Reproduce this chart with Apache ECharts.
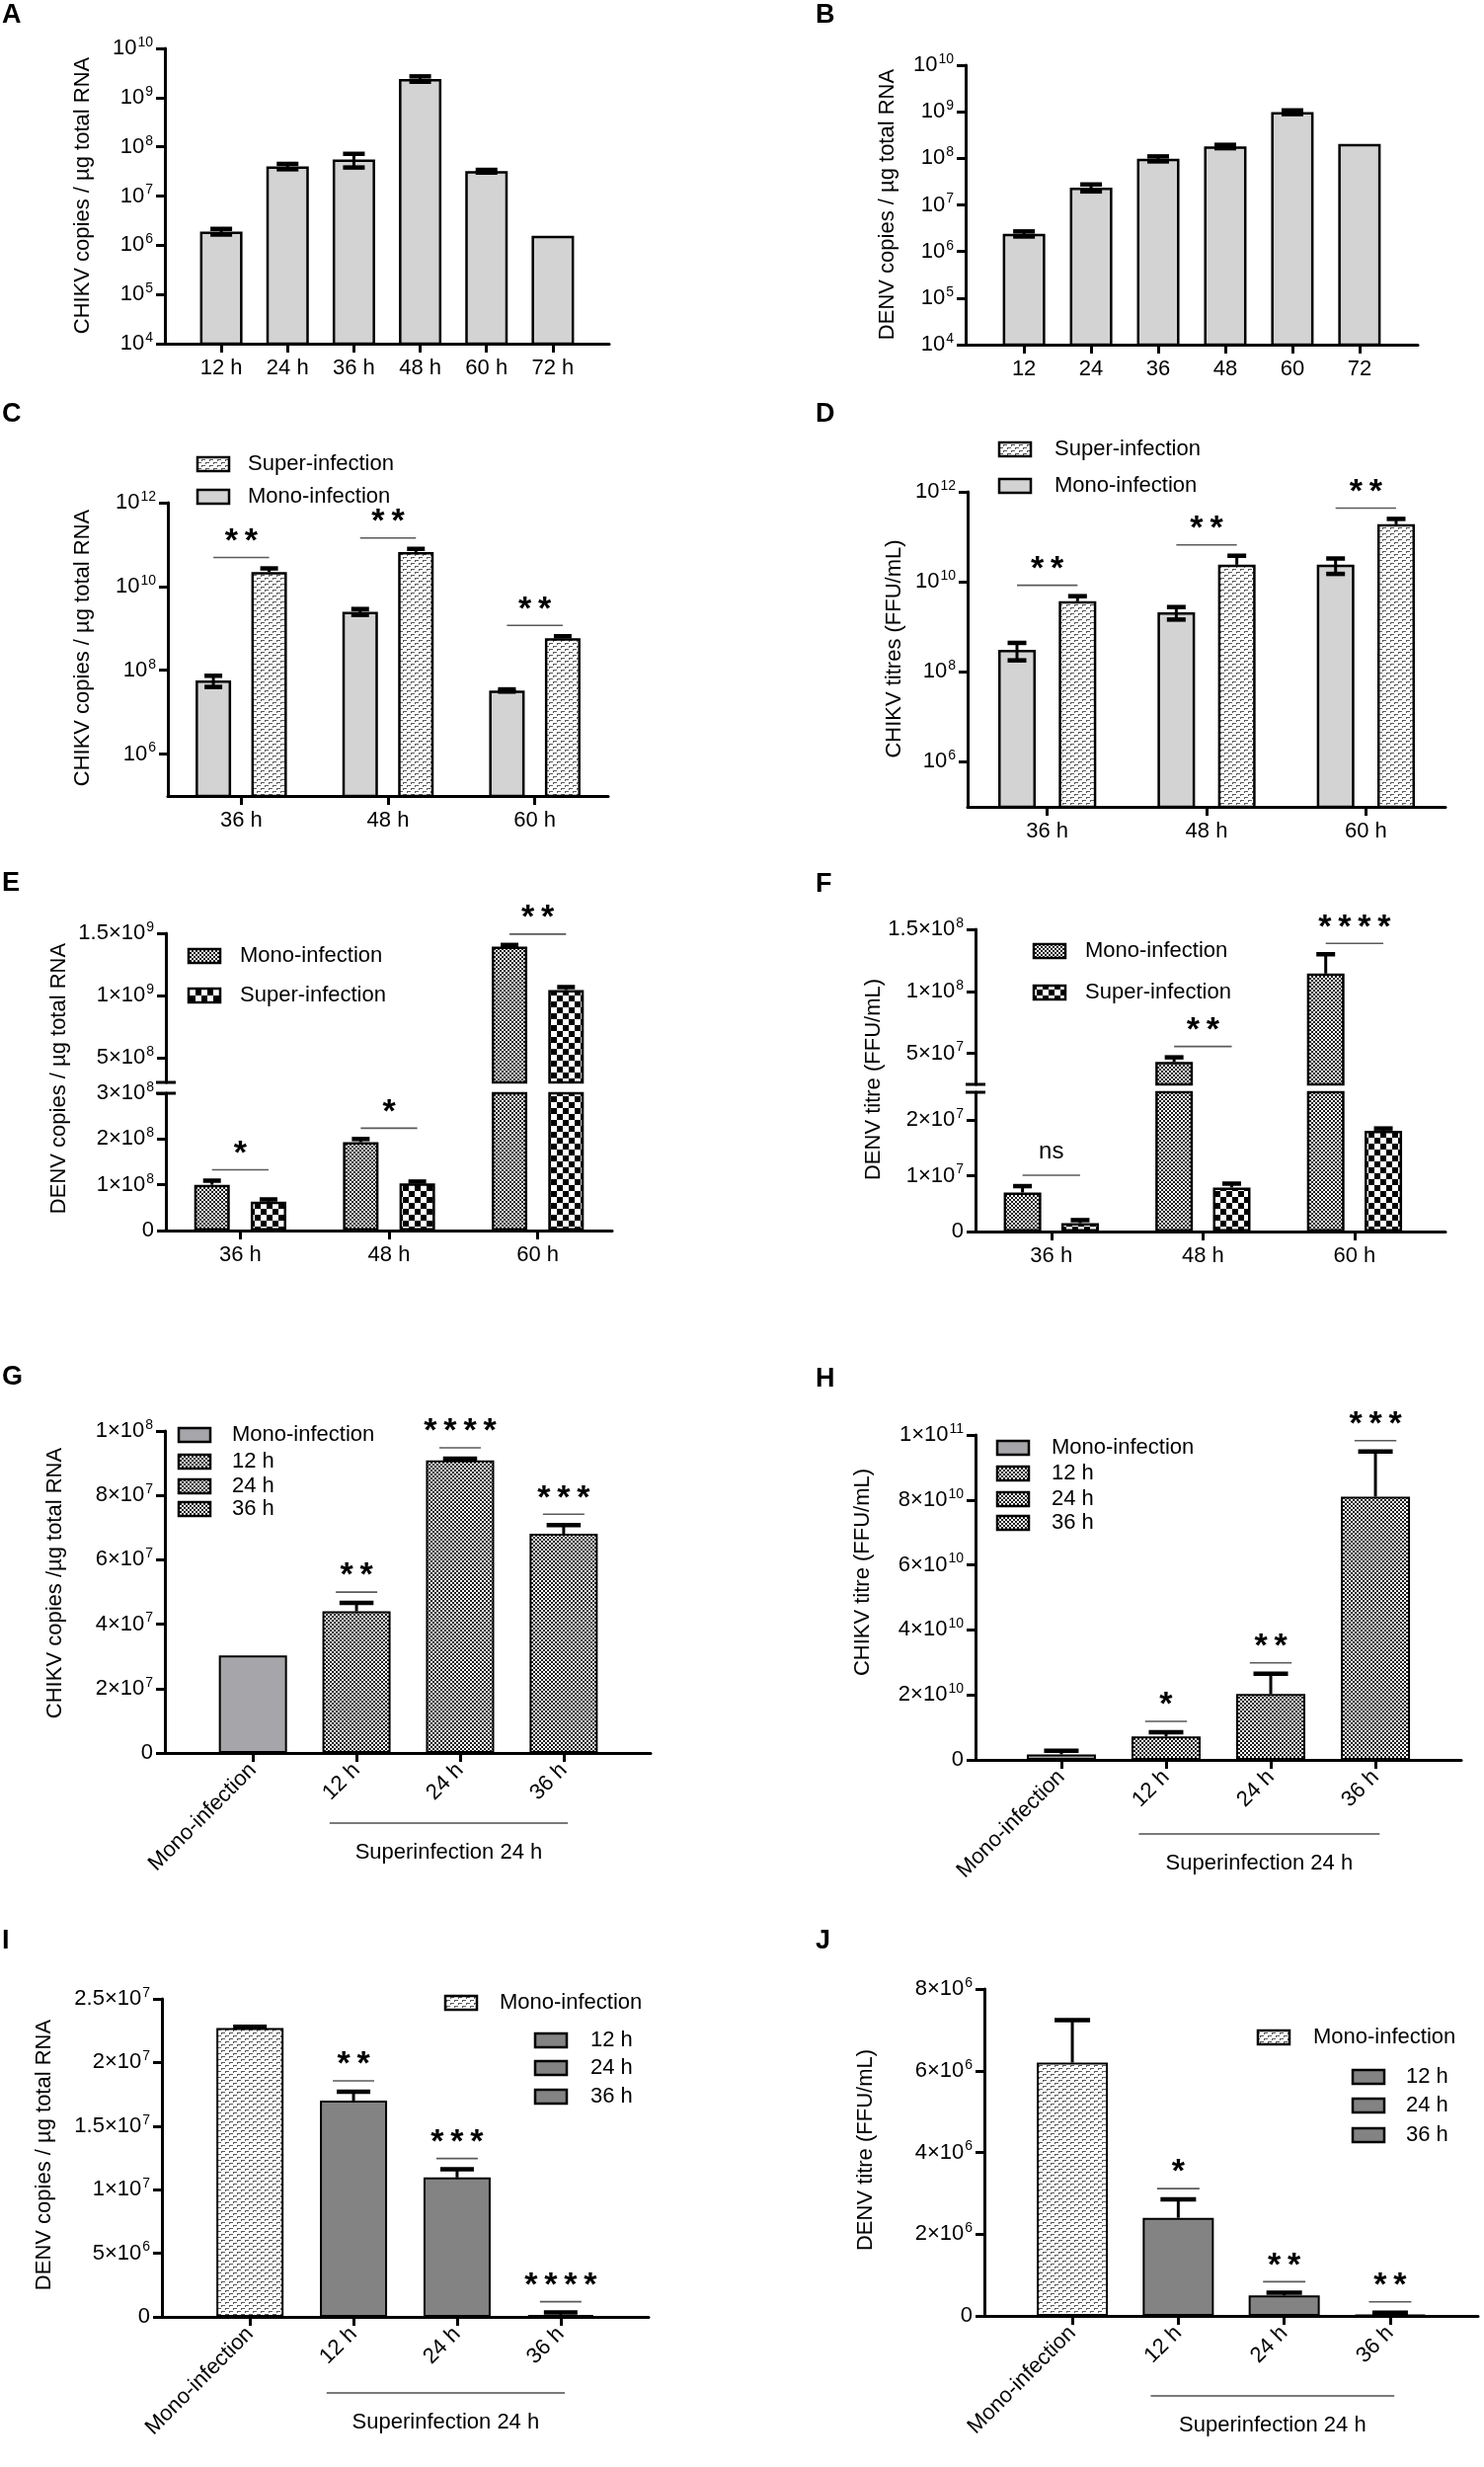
<!DOCTYPE html>
<html>
<head>
<meta charset="utf-8">
<title>CHIKV / DENV super-infection</title>
<script src="https://cdn.jsdelivr.net/npm/echarts@6.0.0/dist/echarts.min.js"></script>
<style>
  html, body { margin: 0; padding: 0; background: #fff; }
  #fig { width: 1503px; height: 2498px; }
</style>
</head>
<body>
<div id="fig"></div>
<script>
var FONT = '"Liberation Sans", Arial, Helvetica, sans-serif';

// ---------- data ----------
// A: CHIKV copies / ug RNA over time (log)
var hoursA = ['12 h', '24 h', '36 h', '48 h', '60 h', '72 h'];
var chikvRnaA = [1.9e6, 4.0e7, 5.5e7, 2.4e9, 3.2e7, 1.55e6];
var chikvRnaErrA = [0.25e6, 0.5e7, 1.7e7, 0.3e9, 0.2e7, 0];
// B: DENV copies / ug RNA over time (log)
var hoursB = ['12', '24', '36', '48', '60', '72'];
var denvRnaB = [2.4e6, 2.35e7, 9.8e7, 1.8e8, 9.8e8, 2.05e8];
var denvRnaErrB = [0.3e6, 0.4e7, 1.2e7, 0.15e8, 0.9e8, 0];
// C-F share these time points
var hoursCF = ['36 h', '48 h', '60 h'];
var logTicksCD = [1e6, 1e8, 1e10, 1e12];
// C: CHIKV copies
var monoC = [5.7e7, 2.5e9, 3.3e7];
var monoErrC = [1.7e7, 0.4e9, 0.2e7];
var superC = [2.2e10, 6.6e10, 5.8e8];
var superErrC = [0.5e10, 1.3e10, 0.7e8];
var sigC = ['**', '**', '**'];
// D: CHIKV titres
var monoD = [3.1e8, 2.1e9, 2.4e10];
var monoErrD = [1.3e8, 0.65e9, 0.9e10];
var superD = [3.7e9, 2.4e10, 1.9e11];
var superErrD = [1.1e9, 1.4e10, 0.6e11];
var sigD = ['**', '**', '**'];
// E: DENV copies (broken axis)
var monoE = [1.0e8, 1.93e8, 1.393e9];
var monoErrE = [0.09e8, 0.07e8, 0.013e9];
var superE = [0.63e8, 1.03e8, 1.043e9];
var superErrE = [0.05e8, 0.04e8, 0.024e9];
var sigE = ['*', '*', '**'];
var lowTicksE = [0, 1e8, 2e8, 3e8];
var highTicksE = [5e8, 1e9, 1.5e9];
// F: DENV titre (broken axis)
var monoF = [7.0e6, 4.31e7, 1.143e8];
var monoErrF = [1.15e6, 0.37e7, 0.156e8];
var superF = [1.5e6, 7.9e6, 1.81e7];
var superErrF = [0.55e6, 0.7e6, 0.04e7];
var sigF = ['ns', '**', '****'];
var lowTicksF = [0, 1e7, 2e7];
var highTicksF = [5e7, 1e8, 1.5e8];
// G-J: mono-infection vs superinfection at 24 h
var groupsGJ = ['Mono-infection', '12 h', '24 h', '36 h'];
var chikvRnaG = [3.03e7, 4.40e7, 9.09e7, 6.81e7];
var chikvRnaErrG = [0, 0.26e7, 0.05e7, 0.27e7];
var sigG = ['', '**', '****', '***'];
var chikvTitreH = [1.7e9, 7.2e9, 2.03e10, 8.1e10];
var chikvTitreErrH = [1.1e9, 1.3e9, 0.62e10, 1.39e10];
var sigH = ['', '*', '**', '***'];
var denvRnaI = [2.27e7, 1.70e7, 1.096e7, 1.5e5];
var denvRnaErrI = [0.01e7, 0.07e7, 0.064e7, 1.9e5];
var sigI = ['', '**', '***', '****'];
var denvTitreJ = [6.2e6, 2.4e6, 0.5e6, 0.3e5];
var denvTitreErrJ = [1.04e6, 0.45e6, 0.07e6, 0.5e5];
var sigJ = ['', '*', '**', '**'];

// ---------- fills ----------
function tile(w, h, draw) {
  var c = document.createElement('canvas');
  c.width = w; c.height = h;
  draw(c.getContext('2d'));
  return { image: c, repeat: 'repeat' };
}
var PAT_DASH = tile(8, 6, function (g) {
  g.fillStyle = '#fff'; g.fillRect(0, 0, 8, 6);
  g.fillStyle = '#5a5a5a';
  g.fillRect(0, 0, 4, 1); g.fillRect(0, 0, 1, 2);
  g.fillRect(4, 3, 4, 1); g.fillRect(4, 3, 1, 2);
});
var PAT_FINE = tile(4, 4, function (g) {
  g.fillStyle = '#fff'; g.fillRect(0, 0, 4, 4);
  g.fillStyle = '#1c1c1c'; g.fillRect(0, 0, 2, 2); g.fillRect(2, 2, 2, 2);
});
var PAT_BIG = tile(12, 12, function (g) {
  g.fillStyle = '#fff'; g.fillRect(0, 0, 12, 12);
  g.fillStyle = '#000'; g.fillRect(0, 0, 6, 6); g.fillRect(6, 6, 6, 6);
});
var LIGHT = '#d3d3d3', MID = '#a6a6aa', DARK = '#838383';

function barStyle(fill, bw) {
  return { color: fill, borderColor: '#000', borderWidth: bw || 2.5 };
}

// ---------- builders ----------
var AX = { color: '#000', width: 3 };
var opt = {
  animation: false, backgroundColor: '#fff', textStyle: { fontFamily: FONT },
  grid: [], xAxis: [], yAxis: [], series: [], graphic: []
};

function addGrid(l, t, w, h) {
  opt.grid.push({ left: l, top: t, width: w, height: h, containLabel: false, outerBoundsMode: 'none' });
  return opt.grid.length - 1;
}
function labelStyle(extra) {
  var s = {
    color: '#000', fontFamily: FONT, fontSize: 22, margin: 12,
    rich: { s: { fontFamily: FONT, fontSize: 14, color: '#000', padding: [0, 0, 12, 1] } }
  };
  for (var k in extra) s[k] = extra[k];
  return s;
}
function seq(n, d) {
  var r = [];
  for (var i = 0; i < n; i++) r.push(i + (d || 0));
  return r;
}
function addX(gi, names, lo, hi, rotate, hidden) {
  var idx = seq(names.length);
  opt.xAxis.push({
    type: 'value', gridIndex: gi, min: lo, max: hi, show: !hidden,
    splitLine: { show: false },
    axisLine: { show: true, onZero: false, lineStyle: AX },
    axisTick: { show: true, length: 9, lineStyle: AX, customValues: idx },
    axisLabel: labelStyle({
      customValues: idx, rotate: rotate || 0, margin: 14,
      formatter: function (v) { return names[Math.round(v)]; }
    })
  });
  return opt.xAxis.length - 1;
}
function sci(v) {
  if (v === 0) return '0';
  var e = Math.floor(Math.log10(v) + 1e-9);
  var m = Math.round(v / Math.pow(10, e) * 100) / 100;
  return m + '×10{s|' + e + '}';
}
function pow10(v) { return '10{s|' + Math.round(Math.log10(v)) + '}'; }
function addY(gi, o) {
  var ax = {
    gridIndex: gi, type: o.log ? 'log' : 'value', min: o.min, max: o.max,
    splitLine: { show: false },
    axisLine: { show: true, onZero: false, lineStyle: AX },
    axisTick: { show: true, length: 9, lineStyle: AX },
    axisLabel: labelStyle({ formatter: o.log ? pow10 : sci })
  };
  if (o.log) ax.logBase = 10;
  if (o.interval) ax.interval = o.interval;
  if (o.ticks) ax.axisTick.customValues = o.ticks;
  if (o.labels) ax.axisLabel.customValues = o.labels;
  opt.yAxis.push(ax);
  return opt.yAxis.length - 1;
}
function addBars(xi, yi, xs, vals, style, w, keep) {
  var d = [];
  xs.forEach(function (x, i) { if (!keep || keep(vals[i])) d.push([x, vals[i]]); });
  opt.series.push({
    type: 'bar', xAxisIndex: xi, yAxisIndex: yi, data: d, barWidth: w, barGap: '-100%',
    clip: true, itemStyle: style, z: 2, silent: true
  });
}
// both = draw the lower whisker too (visible on the plain grey bars)
function addErr(xi, yi, xs, vals, errs, cap, both, keep) {
  var pts = [];
  xs.forEach(function (x, i) {
    if (!errs[i]) return;
    if (keep && !keep(vals[i], errs[i])) return;
    pts.push([x, both ? Math.max(vals[i] - errs[i], 0) : vals[i], vals[i] + errs[i]]);
  });
  opt.series.push({
    type: 'custom', xAxisIndex: xi, yAxisIndex: yi, z: 5, clip: false, silent: true, data: pts,
    renderItem: function (p, api) {
      var t = api.coord([api.value(0), api.value(2)]);
      var b = api.coord([api.value(0), api.value(1)]);
      var h = cap / 2;
      var kids = [
        { type: 'line', shape: { x1: t[0], y1: t[1], x2: b[0], y2: b[1] }, style: { stroke: '#000', lineWidth: 3 } },
        { type: 'line', shape: { x1: t[0] - h, y1: t[1], x2: t[0] + h, y2: t[1] }, style: { stroke: '#000', lineWidth: 4.5 } }
      ];
      if (both) kids.push({ type: 'line', shape: { x1: b[0] - h, y1: b[1], x2: b[0] + h, y2: b[1] }, style: { stroke: '#000', lineWidth: 4.5 } });
      return { type: 'group', children: kids };
    }
  });
}
// top of each comparison = highest error bar among the compared bars
function tops(lists) {
  return lists[0][0].map(function (_, i) {
    var m = 0;
    lists.forEach(function (pair) { m = Math.max(m, pair[0][i] + pair[1][i]); });
    return m;
  });
}
function addSig(xi, yi, xs, topVals, labels, half, keep) {
  var pts = [];
  xs.forEach(function (x, i) {
    if (!labels[i]) return;
    if (keep && !keep(topVals[i])) return;
    pts.push([x, topVals[i], i]);
  });
  opt.series.push({
    type: 'custom', xAxisIndex: xi, yAxisIndex: yi, z: 6, clip: false, silent: true, data: pts,
    renderItem: function (p, api) {
      var x = api.value(0), lab = labels[api.value(2)];
      var a = api.coord([x - half, api.value(1)]), b = api.coord([x + half, api.value(1)]);
      var y = a[1] - 11;
      var ns = lab === 'ns';
      return { type: 'group', children: [
        { type: 'line', shape: { x1: a[0], y1: y, x2: b[0], y2: y }, style: { stroke: '#5a5a5a', lineWidth: 1.6 } },
        { type: 'text', style: {
          text: ns ? lab : lab.split('').join('\u2009'), x: (a[0] + b[0]) / 2, y: ns ? y - 24 : y - 16,
          align: 'center', verticalAlign: 'middle',
          fontFamily: FONT, fontSize: ns ? 24 : 34, fontWeight: ns ? 'normal' : 'bold', fill: '#000'
        } }
      ] };
    }
  });
}
function addGroupLine(xi, yi, from, to, drop) {
  opt.series.push({
    type: 'custom', xAxisIndex: xi, yAxisIndex: yi, z: 6, clip: false, silent: true, data: [[from, to]],
    renderItem: function (p, api) {
      var a = api.coord([api.value(0) - 0.26, 0]);
      var b = api.coord([api.value(1) + 0.04, 0]);
      var y = a[1] + drop;
      return { type: 'group', children: [
        { type: 'line', shape: { x1: a[0], y1: y, x2: b[0], y2: y }, style: { stroke: '#7a7a7a', lineWidth: 2 } },
        { type: 'text', style: {
          text: 'Superinfection 24 h', x: (a[0] + b[0]) / 2, y: y + 30, align: 'center', verticalAlign: 'middle',
          fontFamily: FONT, fontSize: 22, fill: '#000'
        } }
      ] };
    }
  });
}
// short "=" mark across the y axis where it is broken
function addBreakMark(xi, yi, xMin, brk) {
  opt.series.push({
    type: 'custom', xAxisIndex: xi, yAxisIndex: yi, z: 7, clip: false, silent: true, data: [[xMin, brk]],
    renderItem: function (p, api) {
      var c = api.coord([api.value(0), api.value(1)]);
      return { type: 'line', shape: { x1: c[0] - 10, y1: c[1], x2: c[0] + 10, y2: c[1] }, style: { stroke: '#000', lineWidth: 3 } };
    }
  });
}
function letter(t, x, y) {
  opt.graphic.push({ type: 'text', x: x, y: y, style: { text: t, fontFamily: FONT, fontSize: 27, fontWeight: 'bold', fill: '#000', verticalAlign: 'middle' } });
}
function yTitle(x, y, t) {
  opt.graphic.push({ type: 'text', x: x, y: y, rotation: Math.PI / 2, style: { text: t, fontFamily: FONT, fontSize: 22, fill: '#000', align: 'center', verticalAlign: 'middle' } });
}
function legendBox(x, y, fill, t, tx) {
  opt.graphic.push({ type: 'rect', shape: { x: x, y: y - 7, width: 32, height: 14 }, style: { fill: fill, stroke: '#000', lineWidth: 2.5 } });
  opt.graphic.push({ type: 'text', x: tx, y: y, style: { text: t, fontFamily: FONT, fontSize: 22, fill: '#000', verticalAlign: 'middle' } });
}

var OFF = 0.19;

// ---------- A ----------
(function () {
  var g = addGrid(167, 49, 450, 299);
  var x = addX(g, hoursA, -0.85, 5.85);
  var y = addY(g, { log: true, min: 1e4, max: 1e10 });
  addBars(x, y, seq(6), chikvRnaA, barStyle(LIGHT), 43);
  addErr(x, y, seq(6), chikvRnaA, chikvRnaErrA, 22, true);
  letter('A', 2, 16);
  yTitle(84, 198, 'CHIKV copies / µg total RNA');
})();

// ---------- B ----------
(function () {
  var g = addGrid(978, 66, 458, 283);
  var x = addX(g, hoursB, -0.87, 5.87);
  var y = addY(g, { log: true, min: 1e4, max: 1e10 });
  addBars(x, y, seq(6), denvRnaB, barStyle(LIGHT), 43);
  addErr(x, y, seq(6), denvRnaB, denvRnaErrB, 22, true);
  letter('B', 826, 16);
  yTitle(899, 207, 'DENV copies / µg total RNA');
})();

// ---------- C & D (log, grouped) ----------
function logPair(box, mono, monoErr, sup, supErr, sig, bw, L) {
  var g = addGrid(box[0], box[1], box[2], box[3]);
  var x = addX(g, hoursCF, -0.5, box[4]);
  var y = addY(g, { log: true, min: 1e5, max: 1e12, labels: logTicksCD, ticks: logTicksCD });
  var mx = seq(3, -OFF), sx = seq(3, OFF);
  addBars(x, y, mx, mono, barStyle(LIGHT), bw);
  addBars(x, y, sx, sup, barStyle(PAT_DASH), bw);
  addErr(x, y, mx, mono, monoErr, bw * 0.5, true);
  addErr(x, y, sx, sup, supErr, bw * 0.5, false);
  addSig(x, y, seq(3), tops([[mono, monoErr], [sup, supErr]]), sig, OFF);
  legendBox(L[0], L[1], PAT_DASH, 'Super-infection', L[3]);
  legendBox(L[0], L[2], LIGHT, 'Mono-infection', L[3]);
}
logPair([170, 509, 446, 297, 2.5], monoC, monoErrC, superC, superErrC, sigC, 36, [200, 470, 503, 251]);
letter('C', 2, 420);
yTitle(84, 656, 'CHIKV copies / µg total RNA');
logPair([980, 498, 484, 319, 2.5], monoD, monoErrD, superD, superErrD, sigD, 38, [1012, 455, 492, 1068]);
letter('D', 826, 420);
yTitle(906, 657, 'CHIKV titres (FFU/mL)');

// ---------- E & F (broken linear axis, grouped) ----------
function brokenPair(box, upH, lowTop, lowH, brk, top, lowTicks, highTicks, mono, monoErr, sup, supErr, sig, bw, L) {
  var gu = addGrid(box[0], box[1], box[2], upH);
  var gl = addGrid(box[0], lowTop, box[2], lowH);
  var xu = addX(gu, hoursCF, -0.5, box[3], 0, true);
  var xl = addX(gl, hoursCF, -0.5, box[3]);
  var yu = addY(gu, { min: brk, max: top, labels: highTicks, ticks: highTicks });
  var yl = addY(gl, { min: 0, max: brk, labels: lowTicks, ticks: lowTicks });
  var mx = seq(3, -OFF), sx = seq(3, OFF);
  var hi = function (v) { return v > brk; };
  var lo = function (v, e) { return v + e <= brk; };
  addBars(xl, yl, mx, mono, barStyle(PAT_FINE), bw);
  addBars(xl, yl, sx, sup, barStyle(PAT_BIG), bw);
  addBars(xu, yu, mx, mono, barStyle(PAT_FINE), bw, hi);
  addBars(xu, yu, sx, sup, barStyle(PAT_BIG), bw, hi);
  addErr(xl, yl, mx, mono, monoErr, bw * 0.5, false, lo);
  addErr(xl, yl, sx, sup, supErr, bw * 0.5, false, lo);
  addErr(xu, yu, mx, mono, monoErr, bw * 0.5, false, hi);
  addErr(xu, yu, sx, sup, supErr, bw * 0.5, false, hi);
  var t = tops([[mono, monoErr], [sup, supErr]]);
  addSig(xl, yl, seq(3), t, sig, OFF, function (v) { return v <= brk; });
  addSig(xu, yu, seq(3), t, sig, OFF, hi);
  addBreakMark(xl, yl, -0.5, brk);
  addBreakMark(xu, yu, -0.5, brk);
  legendBox(L[0], L[1], PAT_FINE, 'Mono-infection', L[3]);
  legendBox(L[0], L[2], PAT_BIG, 'Super-infection', L[3]);
}
brokenPair([168, 945, 452, 2.5], 151, 1107, 139, 3e8, 1.5e9, lowTicksE, highTicksE,
  monoE, monoErrE, superE, superErrE, sigE, 36, [191, 968, 1008, 243]);
letter('E', 2, 895);
yTitle(60, 1092, 'DENV copies / µg total RNA');
brokenPair([988, 941, 476, 2.6], 157, 1106, 141, 2.5e7, 1.5e8, lowTicksF, highTicksF,
  monoF, monoErrF, superF, superErrF, sigF, 38, [1047, 963, 1005, 1099]);
letter('F', 826, 896);
yTitle(885, 1093, 'DENV titre (FFU/mL)');

// ---------- G-J (mono vs superinfection 24 h) ----------
function superPanel(box, lo, hi, vals, errs, sig, yMax, yInt, monoFill, supFill, bw, drop, L) {
  var g = addGrid(box[0], box[1], box[2], box[3]);
  var x = addX(g, groupsGJ, lo, hi, 45);
  var y = addY(g, { min: 0, max: yMax, interval: yInt });
  addBars(x, y, [0], vals.slice(0, 1), barStyle(monoFill, 2), bw);
  addBars(x, y, [1, 2, 3], vals.slice(1), barStyle(supFill, 2), bw);
  addErr(x, y, seq(4), vals, errs, bw * 0.5, false);
  addSig(x, y, seq(4), tops([[vals, errs]]), sig, 0.2);
  addGroupLine(x, y, 1, 3, drop);
  legendBox(L[0], L[1], monoFill, groupsGJ[0], L[2]);
  for (var i = 1; i < 4; i++) legendBox(L[3], L[3 + i], supFill, groupsGJ[i], L[7]);
}
superPanel([167, 1449, 492, 326], -0.85, 3.84, chikvRnaG, chikvRnaErrG, sigG, 1e8, 2e7, MID, PAT_FINE, 69, 71,
  [181, 1453, 235, 181, 1480, 1505, 1528, 235]);
letter('G', 2, 1395);
yTitle(56, 1603, 'CHIKV copies /µg total RNA');
superPanel([988, 1453, 492, 329], -0.82, 3.82, chikvTitreH, chikvTitreErrH, sigH, 1e11, 2e10, MID, PAT_FINE, 70, 75,
  [1010, 1466, 1065, 1010, 1492, 1518, 1542, 1065]);
letter('H', 826, 1397);
yTitle(874, 1592, 'CHIKV titre (FFU/mL)');
superPanel([164, 2024, 493, 322], -0.85, 3.85, denvRnaI, denvRnaErrI, sigI, 2.5e7, 5e6, PAT_DASH, DARK, 68, 77,
  [451, 2028, 506, 542, 2066, 2094, 2123, 598]);
letter('I', 2, 1966);
yTitle(45, 2182, 'DENV copies / µg total RNA');
superPanel([997, 2014, 500, 331], -0.83, 3.83, denvTitreJ, denvTitreErrJ, sigJ, 8e6, 2e6, PAT_DASH, DARK, 72, 81,
  [1274, 2063, 1330, 1370, 2103, 2132, 2162, 1424]);
letter('J', 826, 1966);
yTitle(877, 2177, 'DENV titre (FFU/mL)');

var chart = echarts.init(document.getElementById('fig'), null, { renderer: 'canvas' });
chart.setOption(opt);
</script>
</body>
</html>
